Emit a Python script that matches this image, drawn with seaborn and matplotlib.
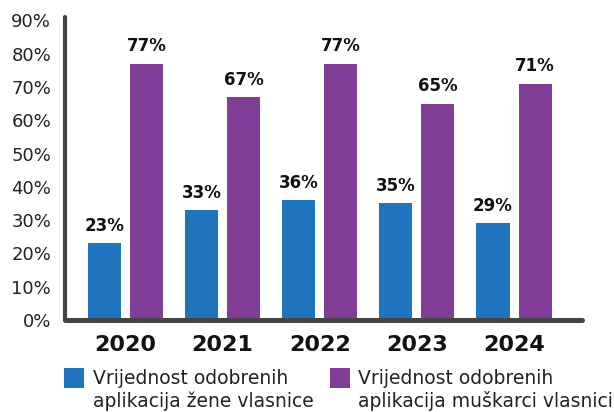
import pandas as pd
import seaborn as sns
import matplotlib.pyplot as plt
from matplotlib.patches import Rectangle

# Data
years = ['2020', '2021', '2022', '2023', '2024']
women = [23, 33, 36, 35, 29]
men = [77, 67, 77, 65, 71]
series_labels = ['Vrijednost odobrenih\naplikacija žene vlasnice',
                 'Vrijednost odobrenih\naplikacija muškarci vlasnici']
colors = ['#1F74BD', '#7F3D96']

df = pd.DataFrame({
    'Godina': years * 2,
    'Vrijednost': women + men,
    'Serija': [series_labels[0]] * len(years) + [series_labels[1]] * len(years),
})

sns.set_style('white')
plt.rcParams['font.family'] = ['DejaVu Sans']

fig = plt.figure(figsize=(6.14, 4.12), dpi=100)
ax = fig.add_axes([0.106, 0.223, 0.842, 0.736])

sns.barplot(data=df, x='Godina', y='Vrijednost', hue='Serija',
            palette=colors, width=0.866, gap=0.215, saturation=1,
            linewidth=0, legend=False, ax=ax)

for container in ax.containers:
    ax.bar_label(container, labels=[f'{v:.0f}%' for v in container.datavalues],
                 padding=6, fontsize=12, fontweight='bold', color='#111111')

ax.set_xlim(-0.62, 4.70)
ax.set_ylim(0, 91)
ax.set_yticks(range(0, 91, 10))
ax.set_yticklabels([f'{t}%' for t in range(0, 91, 10)], fontsize=13, color='#222222')
ax.tick_params(axis='y', length=0, pad=10)
ax.tick_params(axis='x', length=0, pad=11)
for lbl in ax.get_xticklabels():
    lbl.set_fontweight('bold')
    lbl.set_fontsize(16)
    lbl.set_color('#111111')
ax.set_xlabel('')
ax.set_ylabel('')

for side in ['top', 'right']:
    ax.spines[side].set_visible(False)
ax.spines['left'].set_linewidth(3)
ax.spines['bottom'].set_linewidth(3.6)
for side in ['left', 'bottom']:
    ax.spines[side].set_color('#444444')
    ax.spines[side].set_capstyle('round')

# legend: colour squares with two-line labels, placed in figure pixels
W, H = 614, 412
for (sx, tx), c, lab in zip([(64, 93), (330, 358)], colors, series_labels):
    fig.add_artist(Rectangle((sx / W, 1 - 388 / H), 20 / W, 20 / H,
                             transform=fig.transFigure, facecolor=c, edgecolor='none'))
    fig.text(tx / W, 1 - 369 / H, lab, ha='left', va='top', fontsize=13.5,
             color='#222222', linespacing=1.2)

fig.savefig('out.png', dpi=100)
